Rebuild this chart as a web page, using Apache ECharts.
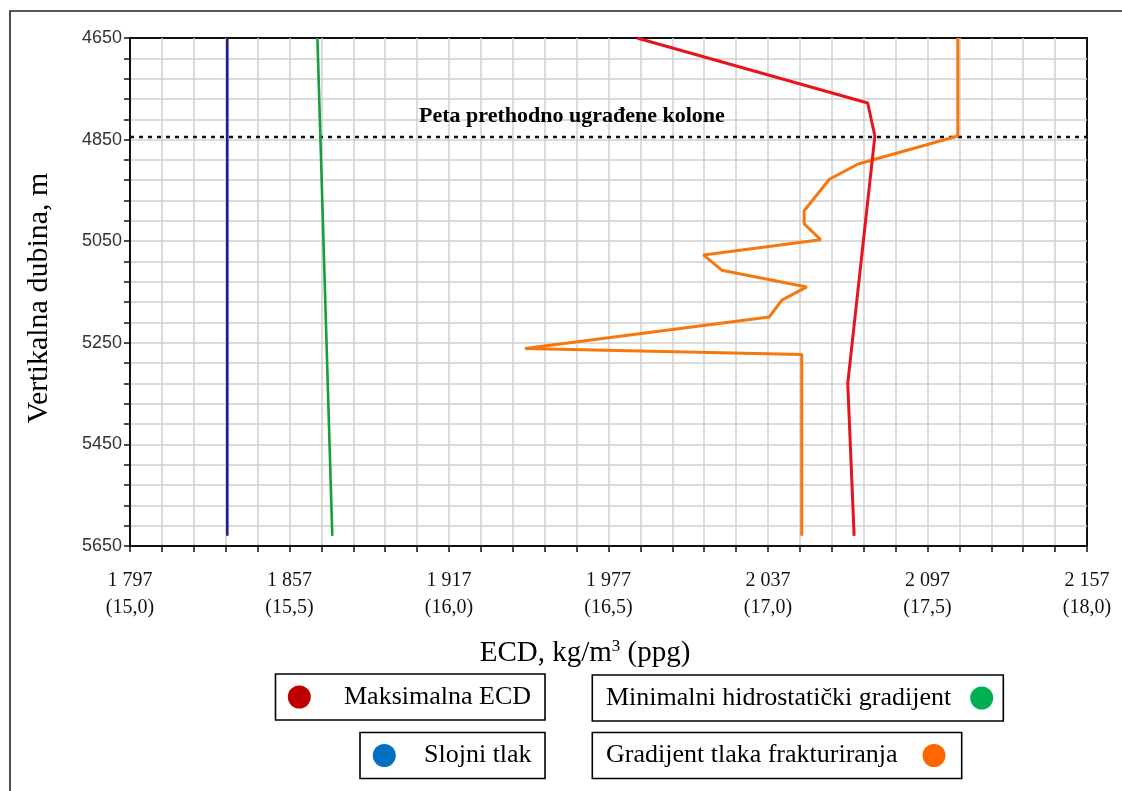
<!DOCTYPE html>
<html>
<head>
<meta charset="utf-8">
<script src="https://cdn.jsdelivr.net/npm/echarts@6/dist/echarts.min.js"></script>
<style>
html,body{margin:0;padding:0;background:#fff;}
#chart{width:1122px;height:791px;}
</style>
</head>
<body>
<div id="chart"></div>
<script>
// ---- axis ranges and tick labels ----
const xMin = 1797, xMax = 2157, xStep = 12, xLabelStep = 60;
const yMin = 4650, yMax = 5650, yStep = 40, yLabelStep = 200;
const xTickKg  = ['1 797', '1 857', '1 917', '1 977', '2 037', '2 097', '2 157'];
const xTickPpg = ['(15,0)', '(15,5)', '(16,0)', '(16,5)', '(17,0)', '(17,5)', '(18,0)'];
const yTickLabels = ['4650', '4850', '5050', '5250', '5450', '5650'];

// ---- series: [ECD kg/m3, vertical depth m] ----
const slojniTlak = [[1833.6, 4650], [1833.6, 5630]];
const minHidroGradijent = [[1867.5, 4650], [1873.1, 5630]];
const maksimalnaECD = [[1987.7, 4650], [2074.5, 4778], [2077.2, 4843], [2067.0, 5330], [2069.4, 5630]];
const gradijentFrakturiranja = [
  [2108.4, 4650], [2108.4, 4843], [2070.9, 4898], [2060.1, 4928], [2050.6, 4990],
  [2050.6, 5016], [2056.8, 5047], [2012.7, 5077], [2019.6, 5107], [2051.6, 5140],
  [2042.2, 5166], [2037.5, 5199], [1945.6, 5261], [2049.7, 5273], [2049.7, 5630]
];
const kolonaDepth = 4845;
const kolonaLine = [[xMin, kolonaDepth], [xMax, kolonaDepth]];
const kolonaLabel = 'Peta prethodno ugrađene kolone';

const legendItems = [
  {name: 'Maksimalna ECD', color: '#c00000'},
  {name: 'Minimalni hidrostatički gradijent', color: '#00b050'},
  {name: 'Slojni tlak', color: '#0070c0'},
  {name: 'Gradijent tlaka frakturiranja', color: '#ff6600'}
];

const serif = '"Liberation Serif", "Times New Roman", serif';
const sans = '"Liberation Sans", Arial, sans-serif';

const chart = echarts.init(document.getElementById('chart'));

function legendBox(x, y, w, h, item, textX, dotX) {
  return [
    {type: 'rect', shape: {x: x, y: y, width: w, height: h},
     style: {fill: '#fff', stroke: '#000', lineWidth: 1.6}, z: 100},
    {type: 'circle', shape: {cx: dotX, cy: y + h / 2, r: 11.5},
     style: {fill: item.color}, z: 101},
    {type: 'text', x: textX, y: y + h / 2,
     style: {text: item.name, fontFamily: serif, fontSize: 26, fill: '#000',
             align: 'left', verticalAlign: 'middle'}, z: 101}
  ];
}

const option = {
  backgroundColor: '#fff',
  animation: false,
  grid: {left: 130, right: 35, top: 38, bottom: 245, show: true,
         borderColor: '#111', borderWidth: 2, backgroundColor: 'transparent'},
  xAxis: [
    { // helper axis for grid / ticks / labels (offset from xMin)
      type: 'value', min: 0, max: xMax - xMin, interval: xStep, position: 'bottom',
      axisLine: {show: true, onZero: false, lineStyle: {color: '#111', width: 2}},
      axisTick: {show: true, length: 6, lineStyle: {color: '#111', width: 1.5}},
      splitLine: {show: true, showMinLine: false, showMaxLine: false, lineStyle: {color: '#cfcfcf', width: 1.5}},
      axisLabel: {
        margin: 21, fontFamily: serif, fontSize: 20, color: '#111', lineHeight: 27,
        formatter: function (v) {
          if (Math.abs(v % xLabelStep) > 1e-6) return '';
          const i = Math.round(v / xLabelStep);
          return xTickKg[i] + '\n' + xTickPpg[i];
        }
      }
    },
    { type: 'value', min: xMin, max: xMax, show: false, position: 'bottom',
      splitLine: {show: false}, axisLine: {show: false, onZero: false}, axisTick: {show: false}, axisLabel: {show: false} }
  ],
  yAxis: [
    { // helper axis (offset from yMin)
      type: 'value', min: 0, max: yMax - yMin, interval: yStep, inverse: true, position: 'left',
      axisLine: {show: true, onZero: false, lineStyle: {color: '#111', width: 2}},
      axisTick: {show: true, length: 6, lineStyle: {color: '#111', width: 1.5}},
      splitLine: {show: true, showMinLine: false, showMaxLine: false, lineStyle: {color: '#cfcfcf', width: 1.5}},
      axisLabel: {
        margin: 8, fontFamily: sans, fontSize: 18, color: '#333',
        formatter: function (v) {
          if (Math.abs(v % yLabelStep) > 1e-6) return '';
          return yTickLabels[Math.round(v / yLabelStep)];
        }
      }
    },
    { type: 'value', min: yMin, max: yMax, inverse: true, show: false, position: 'left',
      splitLine: {show: false}, axisLine: {show: false, onZero: false}, axisTick: {show: false}, axisLabel: {show: false} }
  ],
  series: [
    {name: 'Slojni tlak', type: 'line', xAxisIndex: 1, yAxisIndex: 1, data: slojniTlak,
     showSymbol: false, lineStyle: {color: '#1c1f8f', width: 2.6}, z: 5},
    {name: 'Minimalni hidrostatički gradijent', type: 'line', xAxisIndex: 1, yAxisIndex: 1, data: minHidroGradijent,
     showSymbol: false, lineStyle: {color: '#15a03e', width: 2.6}, z: 5},
    {name: 'Kolona', type: 'line', xAxisIndex: 1, yAxisIndex: 1, data: kolonaLine,
     showSymbol: false, lineStyle: {color: '#111', width: 2.4, type: [4, 5]}, z: 4},
    {name: 'Gradijent tlaka frakturiranja', type: 'line', xAxisIndex: 1, yAxisIndex: 1, data: gradijentFrakturiranja,
     showSymbol: false, lineStyle: {color: '#f5780f', width: 3}, z: 6},
    {name: 'Maksimalna ECD', type: 'line', xAxisIndex: 1, yAxisIndex: 1, data: maksimalnaECD,
     showSymbol: false, lineStyle: {color: '#e8131c', width: 3}, z: 7}
  ],
  graphic: [
    // outer frame (cropped at right and bottom)
    {type: 'rect', shape: {x: 10, y: 11, width: 1200, height: 900},
     style: {fill: 'none', stroke: '#222', lineWidth: 1.6}, z: 1, silent: true},
    {type: 'text', x: 419, y: 116,
     style: {text: kolonaLabel, fontFamily: serif, fontSize: 22, fontWeight: 'bold', fill: '#000',
             align: 'left', verticalAlign: 'middle'}, z: 50},
    {type: 'text', x: 585, y: 653,
     style: {text: '{a|ECD, kg/m}{s|3}{a| (ppg)}', align: 'center', verticalAlign: 'middle',
             rich: {a: {fontFamily: serif, fontSize: 29, fill: '#000'},
                    s: {fontFamily: serif, fontSize: 17, fill: '#000', padding: [0, 0, 12, 0]}}}, z: 50},
    {type: 'text', x: 39.5, y: 298, rotation: Math.PI / 2,
     style: {text: 'Vertikalna dubina, m', fontFamily: serif, fontSize: 30, fill: '#000',
             align: 'center', verticalAlign: 'middle'}, z: 50}
  ]
    .concat(legendBox(275.5, 674, 269.5, 46, legendItems[0], 344, 299.3))
    .concat(legendBox(592.3, 675, 411, 46, legendItems[1], 606, 981.7))
    .concat(legendBox(360, 732.5, 185, 46, legendItems[2], 424, 384.3))
    .concat(legendBox(592.3, 732.5, 369.4, 46, legendItems[3], 606, 934))
};

chart.setOption(option);
</script>
</body>
</html>
